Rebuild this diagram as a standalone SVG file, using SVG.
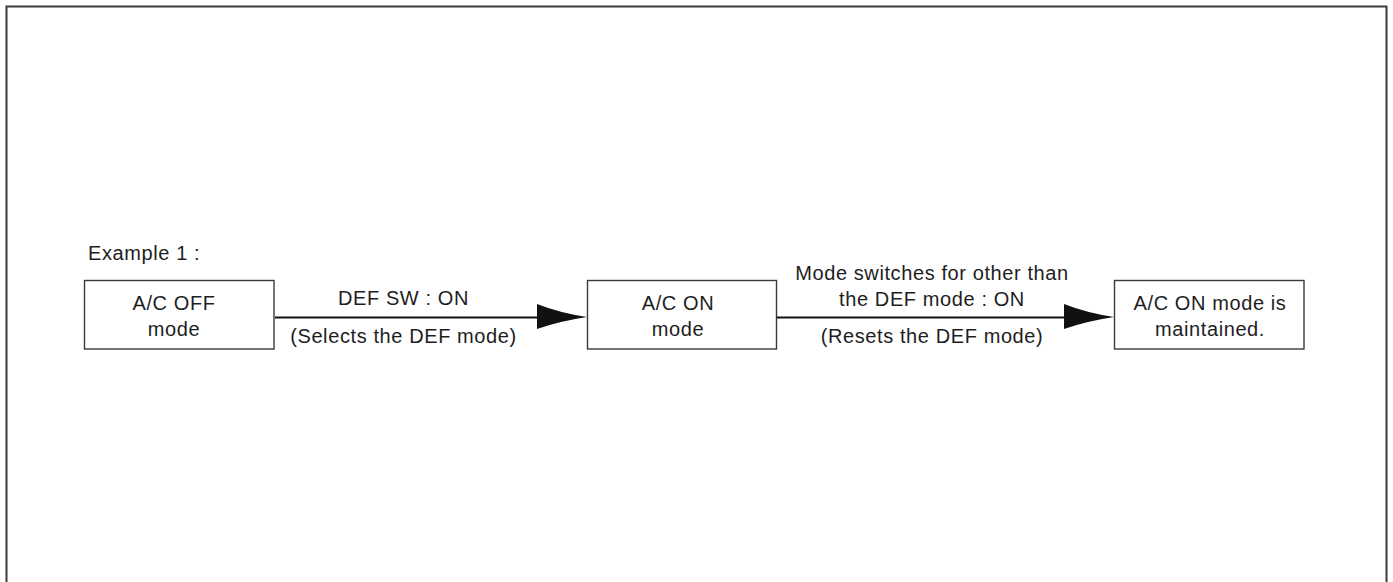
<svg xmlns="http://www.w3.org/2000/svg" width="1393" height="582" viewBox="0 0 1393 582">
<style>
.t{font-family:"Liberation Sans",Arial,sans-serif;font-size:20px;letter-spacing:0.6px;fill:#1e1e1e}
.c{text-anchor:middle}
.box{fill:#fff;stroke:#3a3a3a;stroke-width:1.4}
.ln{stroke:#111;stroke-width:2.2;fill:none}
.ah{fill:#111}
</style>
<rect width="1393" height="582" fill="#fff"/>
<rect x="6.5" y="6.5" width="1380" height="600" fill="none" stroke="#3a3a3a" stroke-width="2"/>
<text class="t" x="88" y="260">Example 1 :</text>
<g id="node-acoff">
<rect class="box" x="84.5" y="280.5" width="189.5" height="68.5"/>
<text class="t c" x="174" y="309.5">A/C OFF</text>
<text class="t c" x="174" y="336">mode</text>
</g>
<g id="node-acon">
<rect class="box" x="587.5" y="280.5" width="189" height="68.5"/>
<text class="t c" x="678" y="309.5">A/C ON</text>
<text class="t c" x="678" y="336">mode</text>
</g>
<g id="node-maintained">
<rect class="box" x="1114.5" y="280.5" width="189.5" height="68.5"/>
<text class="t c" x="1210" y="309.5">A/C ON mode is</text>
<text class="t c" x="1210" y="336">maintained.</text>
</g>
<g id="connectors">
<line class="ln" x1="275" y1="317.5" x2="545" y2="317.5"/>
<path class="ah" d="M537,304 Q560,313 587,317 Q560,321 537,329 Z"/>
<text class="t c" x="403.5" y="305">DEF SW : ON</text>
<text class="t c" x="403.5" y="343">(Selects the DEF mode)</text>
<line class="ln" x1="777" y1="317.5" x2="1072" y2="317.5"/>
<path class="ah" d="M1064,304 Q1087,313 1114,317 Q1087,321 1064,329 Z"/>
<text class="t c" x="932" y="280">Mode switches for other than</text>
<text class="t c" x="932" y="306">the DEF mode : ON</text>
<text class="t c" x="932" y="343">(Resets the DEF mode)</text>
</g>
</svg>
